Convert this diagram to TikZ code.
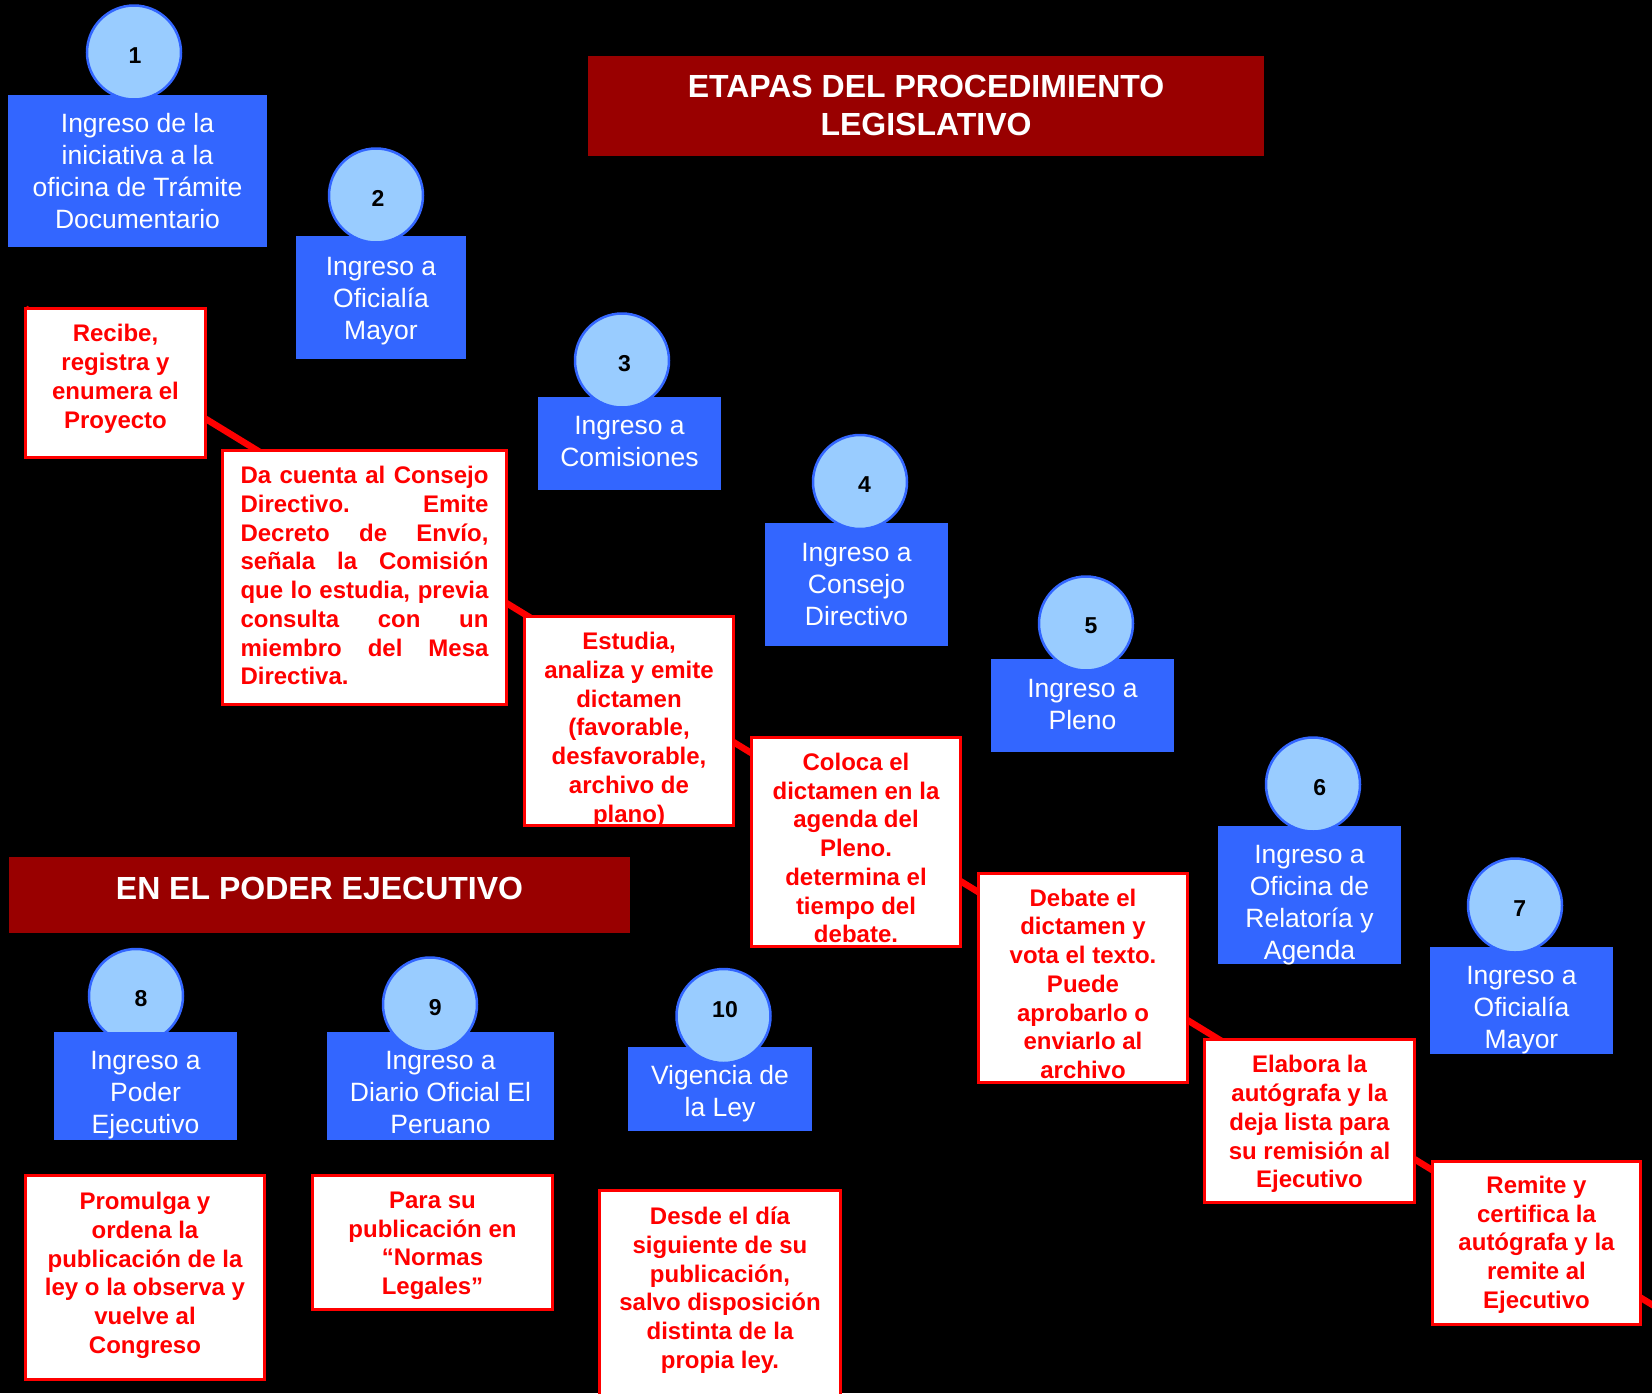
\documentclass[tikz,border=0pt]{standalone}
\usepackage{fontspec}
\setmainfont{Liberation Sans}
\definecolor{boxblue}{HTML}{3366FF}
\definecolor{circfill}{HTML}{99CCFF}
\definecolor{titlered}{HTML}{990000}
\definecolor{txtred}{HTML}{FF0000}
\pgfdeclarelayer{behind}
\pgfsetlayers{behind,main}
\begin{document}
\begin{tikzpicture}[x=1pt,y=-1pt,
  bluebox/.style={fill=boxblue,draw=none,inner sep=0pt,outer sep=0pt},
  redbox/.style={fill=white,draw=txtred,line width=3pt,inner sep=0pt,outer sep=0pt},
  titlebox/.style={fill=titlered,draw=none,inner sep=0pt,outer sep=0pt},
  circ/.style={circle,fill=circfill,draw=boxblue,line width=2.5pt,minimum size=94pt,inner sep=0pt},
  numtxt/.style={inner sep=0pt,font=\fontsize{23}{27}\selectfont\bfseries,text=black},
  bluetxt/.style={inner sep=0pt,align=center,text=white,font=\fontsize{26.5}{32}\selectfont,execute at begin node=\strut,execute at end node=\strut},
  redtxt/.style={inner sep=0pt,align=center,text=txtred,font=\fontsize{24}{28.75}\selectfont\bfseries,execute at begin node=\strut,execute at end node=\strut},
  titletxt/.style={inner sep=0pt,align=center,text=white,font=\fontsize{32}{38}\selectfont\bfseries,execute at begin node=\strut,execute at end node=\strut},
  link/.style={draw=txtred,line width=6.5pt}
]
\begin{pgfonlayer}{behind}
\fill[black] (0,0) rectangle (1652,1393);
\end{pgfonlayer}
\useasboundingbox (0,0) rectangle (1652,1393);

% red boxes
\node[redbox,minimum width=180,minimum height=149] (r1) at (115.5,383) {};
\node[redbox,minimum width=284,minimum height=254] (r2) at (364.5,577.5) {};
\node[redbox,minimum width=209,minimum height=209] (r3) at (629,721) {};
\node[redbox,minimum width=209,minimum height=209] (r4) at (856,842) {};
\node[redbox,minimum width=209,minimum height=209] (r5) at (1083,978) {};
\node[redbox,minimum width=210,minimum height=163] (r6) at (1309.5,1121) {};
\node[redbox,minimum width=208,minimum height=163] (r7) at (1536.5,1243) {};
\node[redbox,minimum width=239,minimum height=204] (r8) at (145,1277.5) {};
\node[redbox,minimum width=240,minimum height=134] (r9) at (432.5,1242.5) {};
\node[redbox,minimum width=241,minimum height=240] (r10) at (720,1310) {};

% the red line behind the boxes
\coordinate (lineend) at (1664,1312);
\begin{pgfonlayer}{behind}
\draw[link] (r1.north west) -- (lineend);
\end{pgfonlayer}

% titles
\node[titlebox,minimum width=676,minimum height=100] (T1) at (926,106) {};
\node[titlebox,minimum width=621,minimum height=76] (T2) at (319.5,895) {};
\node[titletxt] (tt1) at (926,111) {ETAPAS DEL PROCEDIMIENTO\\LEGISLATIVO};
\node[titletxt] (tt2) at (319.5,891.5) {EN EL PODER EJECUTIVO};

% blue boxes and circles
\node[circ] (c8) at (136,996) {};
\node[bluebox,minimum width=259,minimum height=152] (b1) at (137.5,171) {};
\node[bluebox,minimum width=170,minimum height=123] (b2) at (381,297.5) {};
\node[bluebox,minimum width=183,minimum height=93] (b3) at (629.5,443.5) {};
\node[bluebox,minimum width=183,minimum height=123] (b4) at (856.5,584.5) {};
\node[bluebox,minimum width=183,minimum height=93] (b5) at (1082.5,705.5) {};
\node[bluebox,minimum width=183,minimum height=138] (b6) at (1309.5,895) {};
\node[bluebox,minimum width=183,minimum height=107] (b7) at (1521.5,1000.5) {};
\node[bluebox,minimum width=183,minimum height=108] (b8) at (145.5,1086) {};
\node[bluebox,minimum width=227,minimum height=108] (b9) at (440.5,1086) {};
\node[bluebox,minimum width=184,minimum height=84] (b10) at (720,1089) {};

\node[circ] (c1) at (134,52.5) {};
\node[circ] (c2) at (376,195.5) {};
\node[circ] (c3) at (622,360.5) {};
\node[circ] (c4) at (860,482) {};
\node[circ] (c5) at (1086,623.5) {};
\node[circ] (c6) at (1313,784.5) {};
\node[circ] (c7) at (1515,905.5) {};
\node[circ] (c9) at (430,1004.5) {};
\node[circ] (c10) at (723.5,1016) {};

% numbers
\node[numtxt] (n1) at (135,56) {1};
\node[numtxt] (n2) at (378,198.5) {2};
\node[numtxt] (n3) at (624.5,364) {3};
\node[numtxt] (n4) at (864.5,484.6) {4};
\node[numtxt] (n5) at (1091,626) {5};
\node[numtxt] (n6) at (1319.7,787.7) {6};
\node[numtxt] (n7) at (1519.7,909) {7};
\node[numtxt] (n8) at (141,999) {8};
\node[numtxt] (n9) at (435.3,1008) {9};
\node[numtxt] (n10) at (725,1009.6) {10};

% blue texts
\node[bluetxt] (t1) at (137.5,176) {Ingreso de la\\iniciativa a la\\oficina de Trámite\\Documentario};
\node[bluetxt] (t2) at (381,302.7) {Ingreso a\\Oficialía\\Mayor};
\node[bluetxt] (t3) at (629.5,446) {Ingreso a\\Comisiones};
\node[bluetxt] (t4) at (856.5,588.7) {Ingreso a\\Consejo\\Directivo};
\node[bluetxt] (t5) at (1082.5,709) {Ingreso a\\Pleno};
\node[bluetxt] (t6) at (1309.5,907) {Ingreso a\\Oficina de\\Relatoría y\\Agenda};
\node[bluetxt] (t7) at (1521.5,1012) {Ingreso a\\Oficialía\\Mayor};
\node[bluetxt] (t8) at (145.5,1097.6) {Ingreso a\\Poder\\Ejecutivo};
\node[bluetxt] (t9) at (440.5,1097.6) {Ingreso a\\Diario Oficial El\\Peruano};
\node[bluetxt] (t10) at (720,1096) {Vigencia de\\la Ley};

% red texts
\node[redtxt] (x1) at (115.5,380.5) {Recibe,\\registra y\\enumera el\\Proyecto};
\node[redtxt,text width=248,align=justify,execute at begin node={\tolerance=10000\hyphenpenalty=10000\strut}] (x2) at (364.5,578.5) {Da cuenta al Consejo\linebreak Directivo. Emite\linebreak Decreto de Envío,\linebreak señala la Comisión\linebreak que lo estudia, previa\linebreak consulta con un\linebreak miembro del Mesa\linebreak Directiva.};
\node[redtxt] (x3) at (629,731.5) {Estudia,\\analiza y emite\\dictamen\\(favorable,\\desfavorable,\\archivo de\\plano)};
\node[redtxt] (x4) at (856,852.3) {Coloca el\\dictamen en la\\agenda del\\Pleno.\\determina el\\tiempo del\\debate.};
\node[redtxt] (x5) at (1083,988) {Debate el\\dictamen y\\vota el texto.\\Puede\\aprobarlo o\\enviarlo al\\archivo};
\node[redtxt] (x6) at (1309.5,1126) {Elabora la\\autógrafa y la\\deja lista para\\su remisión al\\Ejecutivo};
\node[redtxt] (x7) at (1536.5,1246.5) {Remite y\\certifica la\\autógrafa y la\\remite al\\Ejecutivo};
\node[redtxt] (x8) at (145,1277.2) {Promulga y\\ordena la\\publicación de la\\ley o la observa y\\vuelve al\\Congreso};
\node[redtxt] (x9) at (432.5,1247.5) {Para su\\publicación en\\“Normas\\Legales”};
\node[redtxt] (x10) at (720,1292) {Desde el día\\siguiente de su\\publicación,\\salvo disposición\\distinta de la\\propia ley.};
\end{tikzpicture}
\end{document}
